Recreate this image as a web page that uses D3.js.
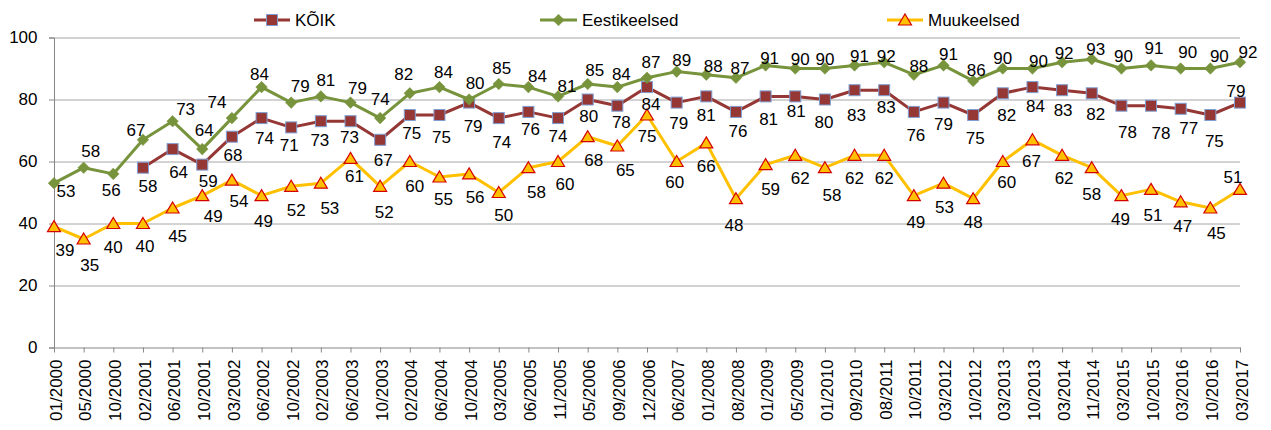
<!DOCTYPE html>
<html><head><meta charset="utf-8">
<script src="https://cdn.jsdelivr.net/npm/d3@7"></script>
<style>
body{margin:0;background:#fff}
text{font-family:"Liberation Sans",Arial,sans-serif}
</style>
</head><body>
<svg id="c" width="1271" height="430"></svg>
<script>
// ---- data ----
const categories = ["01/2000","05/2000","10/2000","02/2001","06/2001","10/2001","03/2002","06/2002","10/2002","02/2003","06/2003","10/2003","02/2004","06/2004","10/2004","03/2005","06/2005","11/2005","05/2006","09/2006","12/2006","06/2007","01/2008","08/2008","01/2009","05/2009","01/2010","09/2010","08/2011","10/2011","03/2012","10/2012","03/2013","10/2013","03/2014","11/2014","03/2015","10/2015","03/2016","10/2016","03/2017"];
const koik = [null,null,null,58,64,59,68,74,71,73,73,67,75,75,79,74,76,74,80,78,84,79,81,76,81,81,80,83,83,76,79,75,82,84,83,82,78,78,77,75,79];
const eestikeelsed = [53,58,56,67,73,64,74,84,79,81,79,74,82,84,80,85,84,81,85,84,87,89,88,87,91,90,90,91,92,88,91,86,90,90,92,93,90,91,90,90,92];
const muukeelsed = [39,35,40,40,45,49,54,49,52,53,61,52,60,55,56,50,58,60,68,65,75,60,66,48,59,62,58,62,62,49,53,48,60,67,62,58,49,51,47,45,51];
const yTicks = [0,20,40,60,80,100];
const seriesNames = ["KÕIK","Eestikeelsed","Muukeelsed"];

// ---- label placement (offset from point, px) ----
const koikLabelOff = [null,null,null,[5,18],[6,23],[6,16],[1,18],[3,20],[-2,18],[-1,19],[-1,16],[3,20],[2,18],[2,22],[4,23],[3,24],[2,17],[0,18],[1,17],[4,16],[4,17],[2,20],[0,19],[2,19],[3,23],[1,15],[-1,23],[2,25],[2,17],[2,23],[0,21],[2,23],[4,22],[3,19],[1,20],[4,21],[6,26],[10,27],[8,19],[4,26],[-4,-12]];
const eestiLabelOff = [[12,8],[7,-17],[-2,16],[-7,-10],[13,-12],[2,-19],[-15,-16],[-2,-13],[9,-17],[5,-16],[7,-15],[0,-19],[-6,-19],[4,-15],[6,-16],[3,-16],[9,-11],[9,-10],[7,-14],[4,-13],[4,-16],[5,-12],[7,-9],[4,-10],[4,-7],[5,-9],[0,-9],[5,-9],[2,-6],[5,-9],[5,-11],[3,-11],[0,-10],[6,-7],[2,-9],[4,-10],[2,-12],[3,-17],[7,-16],[9,-12],[8,-10]];
const muuLabelOff = [[11,23],[6,26],[0,24],[2,23],[5,28],[11,20],[7,21],[2,25],[5,24],[9,25],[4,18],[4,26],[5,25],[4,22],[6,23],[5,23],[8,24],[7,23],[6,23],[8,24],[0,21],[-2,21],[0,23],[-2,26],[5,24],[5,23],[7,27],[0,23],[0,23],[2,26],[1,24],[0,23],[4,21],[-1,21],[2,23],[0,26],[-1,23],[2,26],[2,24],[6,25],[-7,-12]];

// ---- setup ----
const svg = d3.select("#c");
const plotLeft = 54, plotRight = 1240, plotTop = 37.5, plotBottom = 347.5;
const x = d3.scalePoint().domain(categories).range([plotLeft, plotRight]);
const y = d3.scaleLinear().domain([0, 100]).range([plotBottom, plotTop]);

const GRID = "#a6a6a6", AXIS = "#868686";

// gridlines
svg.append("g")
  .attr("transform", `translate(${plotLeft},0)`)
  .call(d3.axisLeft(y).tickValues(yTicks.filter(v => v > 0)).tickSize(-(plotRight - plotLeft)).tickFormat(""))
  .call(g => g.select(".domain").remove())
  .call(g => g.selectAll("line").attr("stroke", GRID).attr("stroke-width", 1));

// y axis
svg.append("g")
  .attr("transform", `translate(${plotLeft},0)`)
  .call(d3.axisLeft(y).tickValues(yTicks).tickSize(5).tickPadding(11.5))
  .call(g => g.select(".domain").attr("stroke", AXIS))
  .call(g => g.selectAll("line").attr("stroke", AXIS))
  .call(g => g.selectAll("text").attr("font-size", 17).attr("fill", "#000").attr("font-family", "Liberation Sans, Arial, sans-serif"));

// x axis
svg.append("g")
  .attr("transform", `translate(0,${plotBottom})`)
  .call(d3.axisBottom(x).tickSize(5).tickSizeOuter(0))
  .call(g => g.select(".domain").attr("stroke", AXIS))
  .call(g => g.selectAll("line").attr("stroke", AXIS))
  .call(g => g.selectAll("text")
      .attr("font-size", 17).attr("fill", "#000").attr("font-family", "Liberation Sans, Arial, sans-serif")
      .attr("transform", "rotate(-90)")
      .attr("text-anchor", "end")
      .attr("x", -12).attr("y", 0).attr("dy", "0.42em"));

// series definitions
const series = [
  {name: seriesNames[0], values: koik, color: "#953735", marker: "square", off: koikLabelOff},
  {name: seriesNames[1], values: eestikeelsed, color: "#77933C", marker: "diamond", off: eestiLabelOff},
  {name: seriesNames[2], values: muukeelsed, color: "#FFC000", marker: "triangle", off: muuLabelOff}
];

function drawMarker(g, type, cx, cy) {
  if (type === "square") {
    g.append("rect").attr("x", cx - 5.5).attr("y", cy - 5.5).attr("width", 11).attr("height", 11)
      .attr("fill", "#953735").attr("stroke", "#7F9FD3").attr("stroke-width", 1);
  } else if (type === "diamond") {
    const r = 5.8;
    g.append("path").attr("d", `M${cx},${cy - r}L${cx + r},${cy}L${cx},${cy + r}L${cx - r},${cy}Z`)
      .attr("fill", "#77933C").attr("stroke", "#77933C").attr("stroke-width", 0.5);
  } else {
    g.append("path").attr("d", `M${cx},${cy - 6}L${cx + 6.5},${cy + 5}L${cx - 6.5},${cy + 5}Z`)
      .attr("fill", "#FFC000").attr("stroke", "#D40000").attr("stroke-width", 1.2).attr("stroke-linejoin", "miter");
  }
}

const line = d3.line().defined(d => d.v != null).x(d => x(d.c)).y(d => y(d.v));

series.forEach(s => {
  const pts = categories.map((c, i) => ({c, v: s.values[i], i}));
  const g = svg.append("g");
  g.append("path").datum(pts).attr("d", line)
    .attr("fill", "none").attr("stroke", s.color).attr("stroke-width", 3).attr("stroke-linejoin", "round");
  pts.filter(d => d.v != null).forEach(d => drawMarker(g, s.marker, x(d.c), y(d.v)));
});

// data labels
series.forEach(s => {
  const pts = categories.map((c, i) => ({c, v: s.values[i], i})).filter(d => d.v != null);
  svg.append("g").selectAll("text").data(pts).join("text")
    .attr("x", d => x(d.c) + s.off[d.i][0])
    .attr("y", d => y(d.v) + s.off[d.i][1])
    .attr("dy", "0.35em")
    .attr("text-anchor", "middle")
    .attr("font-size", 17)
    .attr("fill", "#000")
    .text(d => d.v);
});

// legend
const legendPos = [{x1: 254, x2: 290, tx: 295}, {x1: 540, x2: 577, tx: 582}, {x1: 887, x2: 923, tx: 928}];
series.forEach((s, k) => {
  const p = legendPos[k], ly = 20;
  const g = svg.append("g");
  g.append("line").attr("x1", p.x1).attr("x2", p.x2).attr("y1", ly).attr("y2", ly)
    .attr("stroke", s.color).attr("stroke-width", 3);
  drawMarker(g, s.marker, (p.x1 + p.x2) / 2, ly);
  g.append("text").attr("x", p.tx).attr("y", ly).attr("dy", "0.35em")
    .attr("font-size", 17).attr("fill", "#000").text(s.name);
});
</script>
</body></html>
